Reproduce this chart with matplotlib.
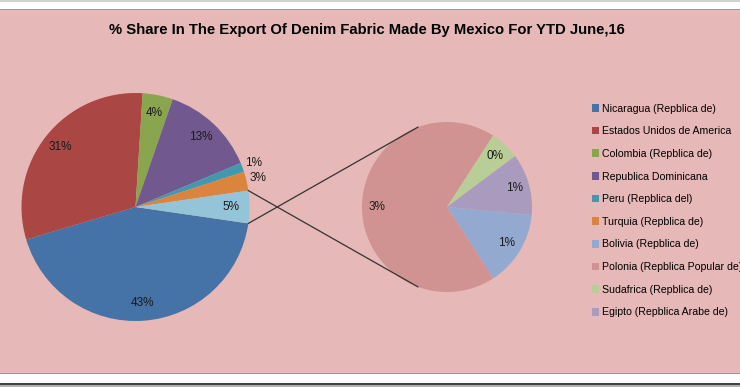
import matplotlib.pyplot as plt
from matplotlib.patches import Rectangle
import numpy as np

# main pie (share of total, %)
main_names = ["Nicaragua (Repblica de)", "Estados Unidos de America", "Colombia (Repblica de)",
              "Republica Dominicana", "Peru (Repblica del)", "Turquia (Repblica de)"]
main_vals = [43.1, 30.6, 4.3, 13.4, 1.3, 2.7]
main_colors = ["#4572A7", "#AA4643", "#89A54E", "#71588F", "#4198AF", "#DB843D"]

# secondary pie (split of the "other" slice, % of total)
sub_names = ["Bolivia (Repblica de)", "Polonia (Repblica Popular de)", "Sudafrica (Repblica de)",
             "Egipto (Repblica Arabe de)"]
sub_vals = [0.66, 3.14, 0.26, 0.54]
sub_colors = ["#93A9CF", "#D19392", "#B9CD96", "#A99BBD"]
other_color = "#93C4D8"

title = "% Share In The Export Of Denim Fabric Made By Mexico For YTD June,16"

bg = "#E6B8B7"
W, H = 740, 387

fig = plt.figure(figsize=(W / 100, H / 100), dpi=100)
fig.patch.set_facecolor("white")


def band(y0, h, color):
    fig.add_artist(Rectangle((0, y0 / H), 1, h / H, transform=fig.transFigure,
                             facecolor=color, edgecolor="none", zorder=-5))


# pink chart area and frame lines
band(14, H - 24, bg)
band(H - 10, 1.2, "#9a9a9a")
band(H - 1.5, 1.5, "#d0d0d0")
band(13, 1.2, "#9a9a9a")
band(2, 2.5, "#404040")
band(0, 2, "#b0b0b0")

ax = fig.add_axes([0, 0, 1, 1])
ax.patch.set_visible(False)

font = ["Liberation Sans", "DejaVu Sans"]

other = sum(sub_vals)
vals = main_vals + [other]
c1, r1 = (135.5, 180.0), 114
c2, r2 = (447.0, 180.0), 85

start1 = -other / sum(vals) * 180
w1, t1, a1 = ax.pie(vals, colors=main_colors + [other_color], startangle=start1, counterclock=False,
                    center=c1, radius=r1, autopct=lambda p: f"{p:.0f}%", pctdistance=0.84,
                    wedgeprops=dict(linewidth=0), textprops=dict(fontsize=8.5, color="#1a1a1a", family=font))
for t in t1:
    t.set_visible(False)
# small slices get labels just outside
for i in (4, 5):
    w = w1[i]
    ang = np.deg2rad((w.theta1 + w.theta2) / 2)
    a1[i].set_position((c1[0] + 1.1 * r1 * np.cos(ang), c1[1] + 1.1 * r1 * np.sin(ang)))

fr = np.array(sub_vals) / other
start2 = -180 + 360 * (fr[0] + fr[1] / 2)
w2, t2, a2 = ax.pie(sub_vals, colors=sub_colors, startangle=start2, counterclock=False,
                    center=c2, radius=r2, autopct=lambda p: f"{p * other / 100:.0f}%", pctdistance=0.82,
                    wedgeprops=dict(linewidth=0), textprops=dict(fontsize=8.5, color="#1a1a1a", family=font))
for t in t2:
    t.set_visible(False)

# connector lines
wo = w1[-1]
for th_main, th_sub in ((wo.theta1, 110), (wo.theta2, -110)):
    p = (c1[0] + r1 * np.cos(np.deg2rad(th_main)), c1[1] + r1 * np.sin(np.deg2rad(th_main)))
    q = (c2[0] + r2 * np.cos(np.deg2rad(th_sub)), c2[1] + r2 * np.sin(np.deg2rad(th_sub)))
    ax.plot([p[0], q[0]], [p[1], q[1]], color="#333333", lw=0.9)

ax.text(367, H - 30, title, ha="center", va="center", fontsize=10.7, fontweight="bold",
        family=font, color="black")

leg = ax.legend(list(w1[:-1]) + list(w2), main_names + sub_names, loc="upper left",
                bbox_to_anchor=(582, H - 94), bbox_transform=ax.transData, frameon=False,
                handlelength=0.75, handleheight=0.75, handletextpad=0.25, labelspacing=1.2,
                prop=dict(family=font, size=7.6))

ax.set_xlim(0, W)
ax.set_ylim(0, H)
ax.set_aspect("equal")
ax.axis("off")

fig.savefig("out.png", dpi=100, facecolor=fig.get_facecolor())
